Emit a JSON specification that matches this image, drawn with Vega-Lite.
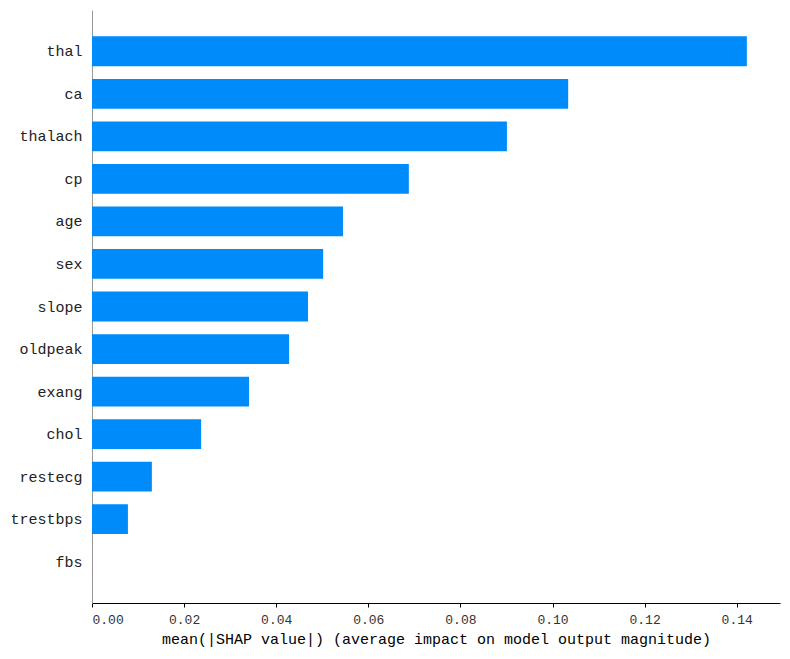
{
  "$schema": "https://vega.github.io/schema/vega-lite/v6.json",
  "width": 688,
  "height": 593,
  "autosize": {"type": "none"},
  "padding": {"left": 92, "top": 10, "right": 10, "bottom": 56},
  "background": "white",
  "config": {"view": {"stroke": null}, "font": "Liberation Mono"},
  "data": {"values": [
    {"feature": "thal", "value": 0.1422},
    {"feature": "ca", "value": 0.1034},
    {"feature": "thalach", "value": 0.0901},
    {"feature": "cp", "value": 0.0688},
    {"feature": "age", "value": 0.0545},
    {"feature": "sex", "value": 0.0502},
    {"feature": "slope", "value": 0.0469},
    {"feature": "oldpeak", "value": 0.0428},
    {"feature": "exang", "value": 0.0341},
    {"feature": "chol", "value": 0.0237},
    {"feature": "restecg", "value": 0.0130},
    {"feature": "trestbps", "value": 0.0078},
    {"feature": "fbs", "value": 0.0}
  ]},
  "mark": {"type": "bar", "color": "#008bfb"},
  "encoding": {
    "y": {
      "field": "feature", "type": "nominal", "sort": null,
      "scale": {"paddingInner": 0.3, "paddingOuter": 0.62},
      "axis": {"title": null, "ticks": false, "domainColor": "#999999", "domainWidth": 1,
               "labelFontSize": 15, "labelColor": "#222222", "labelPadding": 10, "labelFont": "Liberation Mono"}
    },
    "x": {
      "field": "value", "type": "quantitative",
      "scale": {"domain": [0, 0.1494], "nice": false, "zero": true},
      "axis": {"title": "mean(|SHAP value|) (average impact on model output magnitude)",
               "values": [0, 0.02, 0.04, 0.06, 0.08, 0.1, 0.12, 0.14], "format": ".2f",
               "grid": false, "domainColor": "#000000", "domainWidth": 1, "tickColor": "#000000", "tickSize": 4,
               "labelFontSize": 13, "labelColor": "#333333", "labelPadding": 6, "labelFont": "Liberation Mono",
               "titleFontSize": 15, "titleFontWeight": "normal", "titleColor": "#000000", "titlePadding": 5, "titleFont": "Liberation Mono"}
    }
  }
}
